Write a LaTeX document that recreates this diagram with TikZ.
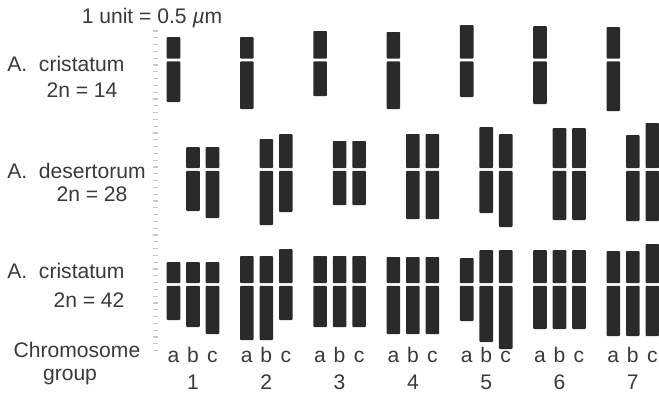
\documentclass[tikz,border=0pt]{standalone}
\usepackage{fontspec}
\setmainfont{Liberation Sans}

\definecolor{ink}{HTML}{3A3A3A}
\definecolor{chromfill}{HTML}{2A2A2A}

\tikzset{
  arm/.style={fill=chromfill, rounded corners=0.5pt},
  lbl/.style={text=ink, inner sep=0pt, anchor=base, font=\fontsize{12}{14}\selectfont},
  tick/.style={gray!45, line width=0.6pt},
}

% one chromosome: column centre, top, centromere, bottom
\newcommand{\chromo}[4]{%
  \pgfmathsetmacro{\chromx}{#1}%
  \fill[arm] (\chromx-6.8,#2) rectangle (\chromx+6.8,#3-1.4);
  \fill[arm] (\chromx-6.8,#3+1.4) rectangle (\chromx+6.8,#4);
}

\begin{document}
\begin{tikzpicture}[x=0.02cm,y=-0.02cm]
\useasboundingbox (0,0) rectangle (659,396);

% scale in units
\node[lbl] (unit) at (152,23) {1 unit = 0.5 {\itshape µ}m};
\foreach \k in {0,...,47}
  \draw[tick] (152.5,31+6.8*\k) -- (157.5,31+6.8*\k);

% species labels
\node[lbl, anchor=base west] (spec1) at (7,71) {A.\ \ cristatum};
\node[lbl] (ploidy1) at (82,97) {2n = 14};
\node[lbl, anchor=base west] (spec2) at (7,178) {A.\ \ desertorum};
\node[lbl] (ploidy2) at (92,201) {2n = 28};
\node[lbl, anchor=base west] (spec3) at (7,278) {A.\ \ cristatum};
\node[lbl] (ploidy3) at (89,307) {2n = 42};
\node[lbl] (chrlab) at (77,357) {Chromosome};
\node[lbl] (grplab) at (70,380) {group};

% diploid: column a only
\foreach \g/\t/\b in {1/37/102, 2/37/109, 3/31/96, 4/32/109, 5/25/97, 6/26/104, 7/27/111}
  \chromo{173.5+73.3*(\g-1)}{\t}{60}{\b};

% tetraploid: columns b and c
\foreach \g/\bt/\bb/\ct/\cb in {1/147/211/147/218, 2/139/225/134/212, 3/141/205/141/205,
    4/134/219/134/219, 5/127/213/134/227, 6/128/220/128/220, 7/135/221/123/221}{
  \chromo{173.5+73.3*(\g-1)+19.5}{\bt}{169.5}{\bb}
  \chromo{173.5+73.3*(\g-1)+39}{\ct}{169.5}{\cb}
}

% hexaploid: columns a, b and c
\foreach \g/\at/\ab/\bt/\bb/\ct/\cb in {1/262/320/262/327/262/334, 2/256/340/256/340/249/320,
    3/256/327/256/327/256/327, 4/257/334/257/334/257/334, 5/258/321/250/342/250/349,
    6/250/329/250/329/250/329, 7/251/336/251/336/244/336}{
  \chromo{173.5+73.3*(\g-1)}{\at}{284.5}{\ab}
  \chromo{173.5+73.3*(\g-1)+19.5}{\bt}{284.5}{\bb}
  \chromo{173.5+73.3*(\g-1)+39}{\ct}{284.5}{\cb}
}

% column letters and group numbers
\foreach \g in {1,...,7}{
  \foreach \c/\o in {a/0, b/19.5, c/39}
    \node[lbl] (\c-\g) at (173.5+73.3*\g-73.3+\o,362) {\c};
  \node[lbl] (grp-\g) at (193+73.3*\g-73.3,389) {\g};
}
\end{tikzpicture}
\end{document}
